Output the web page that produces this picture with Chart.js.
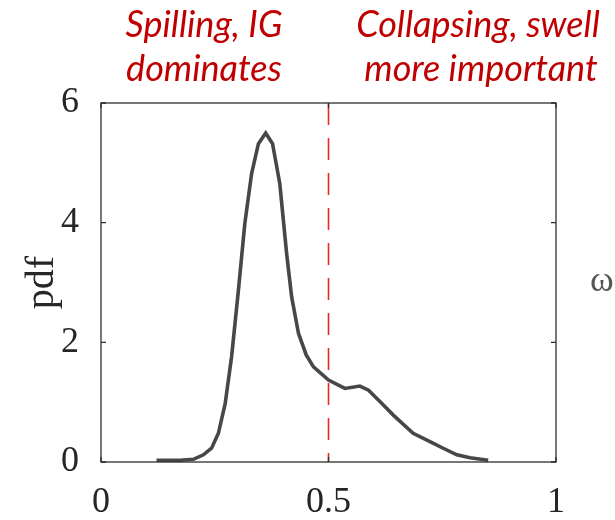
<!DOCTYPE html>
<html>
<head>
<meta charset="utf-8">
<script src="https://cdn.jsdelivr.net/npm/chart.js@4/dist/chart.umd.min.js"></script>
<style>
  body { margin: 0; background: #fff; }
  #wrap { width: 615px; height: 520px; }
</style>
</head>
<body>
<div id="wrap"><canvas id="main-chart" width="615" height="520"></canvas></div>
<script>
// breaker parameter (x) and its pdf
let xValues = [0.122, 0.174, 0.203, 0.225, 0.243, 0.258, 0.273, 0.287, 0.302, 0.316, 0.331, 0.346, 0.362,
    0.377, 0.393, 0.408, 0.419, 0.434, 0.451, 0.467, 0.5, 0.536, 0.569, 0.588, 0.613, 0.643, 0.686,
    0.723, 0.752, 0.782, 0.811, 0.851]
let pdfValues = [0.03, 0.03, 0.045, 0.12, 0.23, 0.48, 0.98, 1.76, 2.87, 3.98, 4.82, 5.32, 5.5,
    5.32, 4.65, 3.48, 2.76, 2.15, 1.79, 1.59, 1.37, 1.23, 1.27, 1.2, 1.01, 0.78, 0.48,
    0.34, 0.23, 0.12, 0.07, 0.03]
let thresholdX = 0.5
let xTicks = [0, 0.5, 1]
let yTicks = [0, 2, 4, 6]
let leftNote = ['Spilling, IG', 'dominates']
let rightNote = ['Collapsing, swell', 'more important']

let curve = xValues.map(function(x, i) { return { x: x, y: pdfValues[i] } })
let threshold = [{ x: thresholdX, y: yTicks[yTicks.length - 1] }, { x: thresholdX, y: yTicks[0] }]

// box with inward ticks, matlab style
let boxPlugin = {
    id: 'box',
    afterDraw: function(chart) {
        let ctx = chart.ctx
        let a = chart.chartArea
        let xs = chart.scales.x
        let ys = chart.scales.y
        ctx.save()
        ctx.strokeStyle = '#2e2e2e'
        ctx.lineWidth = 1.3
        ctx.strokeRect(a.left, a.top, a.right - a.left, a.bottom - a.top)
        ctx.beginPath()
        xTicks.forEach(function(v) {
            let px = xs.getPixelForValue(v)
            ctx.moveTo(px, a.bottom); ctx.lineTo(px, a.bottom - 5)
            ctx.moveTo(px, a.top); ctx.lineTo(px, a.top + 5)
        })
        yTicks.forEach(function(v) {
            let py = ys.getPixelForValue(v)
            ctx.moveTo(a.left, py); ctx.lineTo(a.left + 5, py)
            ctx.moveTo(a.right, py); ctx.lineTo(a.right - 5, py)
        })
        ctx.stroke()

        // red notes above the axes
        ctx.fillStyle = '#c00000'
        ctx.font = 'italic 36px Lato'
        ctx.textAlign = 'center'
        ctx.textBaseline = 'alphabetic'
        ctx.fillText(leftNote[0], 204, 37)
        ctx.fillText(leftNote[1], 204, 81)
        ctx.fillText(rightNote[0], 478, 37)
        ctx.fillText(rightNote[1], 481, 81)

        // clipped label of the neighbouring panel
        ctx.fillStyle = '#555'
        ctx.font = '36px "Liberation Serif"'
        ctx.textAlign = 'left'
        ctx.fillText('\u03c9', 590, 291)
        ctx.restore()
    }
}

new Chart(document.getElementById('main-chart'), {
    type: 'scatter',
    data: {
        datasets: [{
            data: curve,
            showLine: true,
            borderColor: '#474747',
            borderWidth: 3.6,
            pointRadius: 0,
            tension: 0
        }, {
            data: threshold,
            showLine: true,
            borderColor: 'rgba(228, 30, 30, 0.95)',
            borderWidth: 1.6,
            borderDash: [22, 13],
            pointRadius: 0
        }]
    },
    options: {
        responsive: false,
        animation: false,
        devicePixelRatio: 1,
        layout: { padding: { left: 0, right: 59, top: 103, bottom: 0 } },
        plugins: { legend: { display: false }, tooltip: { enabled: false } },
        scales: {
            x: {
                type: 'linear',
                min: 0,
                max: 1,
                grid: { display: false },
                border: { display: false },
                afterFit: function(s) { s.height = 58 },
                afterBuildTicks: function(s) { s.ticks = xTicks.map(function(v) { return { value: v } }) },
                ticks: {
                    padding: 11,
                    color: '#262626',
                    font: { family: 'Liberation Serif', size: 36 },
                    maxRotation: 0,
                    callback: function(v) { return String(v) }
                }
            },
            y: {
                min: 0,
                max: 6,
                grid: { display: false },
                border: { display: false },
                afterFit: function(s) { s.width = 101 },
                afterBuildTicks: function(s) { s.ticks = yTicks.map(function(v) { return { value: v } }) },
                ticks: {
                    padding: 14,
                    color: '#262626',
                    font: { family: 'Liberation Serif', size: 36 },
                    callback: function(v) { return String(v) }
                },
                title: {
                    display: true,
                    text: 'pdf',
                    color: '#262626',
                    font: { family: 'Liberation Serif', size: 40 },
                    padding: { top: 18, bottom: 0 }
                }
            }
        }
    },
    plugins: [boxPlugin]
})
</script>
</body>
</html>
